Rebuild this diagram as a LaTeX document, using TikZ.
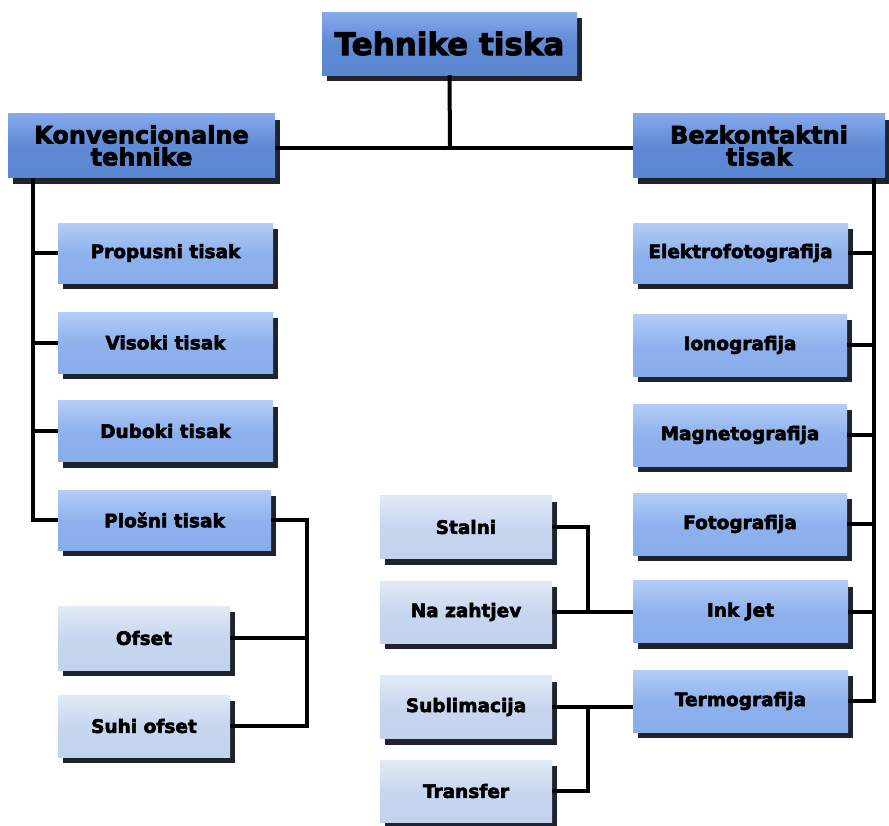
\documentclass[tikz,border=0pt]{standalone}
\usepackage{fontspec}
\setmainfont{DejaVu Sans}[BoldFeatures={FakeBold=3}]
\usetikzlibrary{shadows}
\definecolor{darkA}{HTML}{86AAEA}
\definecolor{darkB}{HTML}{5B86D2}
\definecolor{midA}{HTML}{B4CDF6}
\definecolor{midB}{HTML}{88ADEC}
\definecolor{lightA}{HTML}{E2EAF6}
\definecolor{lightB}{HTML}{C2D3EE}
\definecolor{shade}{HTML}{1E232C}
\tikzset{
  x=1pt, y=-1pt,
  basebox/.style={inner sep=0pt, align=center, text=black,
    drop shadow={shadow xshift=5pt, shadow yshift=-6pt, fill=shade, opacity=1}},
  topbox/.style={basebox, top color=darkA, bottom color=darkB, middle color=darkB!90!darkA,
    font=\bfseries\fontsize{24}{22}\selectfont},
  rootbox/.style={topbox, font=\bfseries\fontsize{31}{31}\selectfont},
  midbox/.style={basebox, top color=midA, bottom color=midB, middle color=midB!85!midA,
    font=\bfseries\fontsize{18.5}{20}\selectfont},
  lightbox/.style={basebox, top color=lightA, bottom color=lightB, middle color=lightB!85!lightA,
    font=\bfseries\fontsize{18.5}{20}\selectfont},
  conn/.style={line width=4pt, black}
}
\begin{document}
\begin{tikzpicture}
\useasboundingbox (0,0) rectangle (889,825);
\coordinate (j) at (450,148);
\coordinate (lx) at (33,178);
\coordinate (rx) at (874,178);
\coordinate (px) at (307,520);
\coordinate (qx) at (588,600);

% boxes
\node[rootbox, minimum width=255, minimum height=63] (root) at (449.5,43.5) {Tehnike tiska};
\node[topbox, minimum width=267, minimum height=64] (konv) at (141.5,145.5) {Konvencionalne\\tehnike};
\node[topbox, minimum width=252, minimum height=64] (bez) at (759,145.5) {Bezkontaktni\\tisak};

\node[midbox, minimum width=215, minimum height=60] (propusni) at (165.5,253) {Propusni tisak};
\node[midbox, minimum width=215, minimum height=61] (visoki) at (165.5,342.5) {Visoki tisak};
\node[midbox, minimum width=215, minimum height=61] (duboki) at (165.5,431) {Duboki tisak};
\node[midbox, minimum width=213, minimum height=60] (plosni) at (164.5,520) {Plošni tisak};

\node[lightbox, minimum width=172, minimum height=64] (ofset) at (144,638) {Ofset};
\node[lightbox, minimum width=172, minimum height=62] (suhi) at (144,726) {Suhi ofset};

\node[midbox, minimum width=215, minimum height=60] (elektro) at (740.5,253) {Elektrofotografija};
\node[midbox, minimum width=214, minimum height=62] (iono) at (740,345) {Ionografija};
\node[midbox, minimum width=214, minimum height=62] (magneto) at (740,435) {Magnetografija};
\node[midbox, minimum width=214, minimum height=62] (foto) at (740,524) {Fotografija};
\node[midbox, minimum width=215, minimum height=62] (inkjet) at (740.5,611.5) {Ink Jet};
\node[midbox, minimum width=215, minimum height=62] (termo) at (740.5,701) {Termografija};

\node[lightbox, minimum width=172, minimum height=63] (stalni) at (466,527) {Stalni};
\node[lightbox, minimum width=172, minimum height=62] (nazahtjev) at (466,612) {Na zahtjev};
\node[lightbox, minimum width=172, minimum height=63] (sublim) at (466,707) {Sublimacija};
\node[lightbox, minimum width=172, minimum height=62] (transfer) at (466,791) {Transfer};

% connectors
\draw[conn] (root.south) -- (j);
\draw[conn] (konv.east |- j) -- (bez.west |- j);
\draw[conn] (lx) |- (plosni.west);
\foreach \n in {propusni,visoki,duboki} \draw[conn] (lx |- \n.west) -- (\n.west);
\draw[conn] (rx) |- (termo.east);
\foreach \n in {elektro,iono,magneto,foto,inkjet} \draw[conn] (rx |- \n.east) -- (\n.east);
\draw[conn] (plosni.east) -- (plosni.east -| px) -- (px |- suhi.east) -- (suhi.east);
\draw[conn] (ofset.east) -- (ofset.east -| px);
\draw[conn] (stalni.east) -- (stalni.east -| qx) -- (qx |- nazahtjev.east);
\draw[conn] (nazahtjev.east) -- (nazahtjev.east -| inkjet.west);
\draw[conn] (transfer.east) -- (transfer.east -| qx) -- (qx |- sublim.east);
\draw[conn] (sublim.east) -- (sublim.east -| termo.west);
\end{tikzpicture}
\end{document}
